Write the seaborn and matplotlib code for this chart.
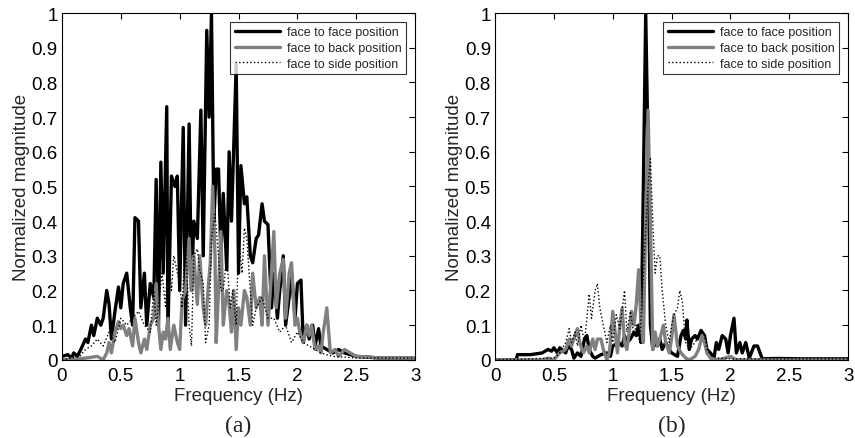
import numpy as np
import pandas as pd
import matplotlib
matplotlib.use("Agg")
import matplotlib.pyplot as plt
import seaborn as sns

# panel (a) - face to face
a_f2f_freq = [0.0, 0.05, 0.08, 0.1, 0.13, 0.16, 0.2, 0.22, 0.25, 0.27, 0.3, 0.33, 0.35, 0.38, 0.4, 0.42,
              0.45, 0.48, 0.5, 0.52, 0.55, 0.58, 0.6, 0.62, 0.65, 0.67, 0.7, 0.72, 0.75, 0.78, 0.8, 0.82,
              0.84, 0.86, 0.89, 0.9, 0.93, 0.96, 0.98, 1.0, 1.03, 1.05, 1.08, 1.1, 1.12, 1.15, 1.18, 1.2,
              1.23, 1.25, 1.27, 1.29, 1.31, 1.33, 1.35, 1.37, 1.4, 1.42, 1.44, 1.48, 1.5, 1.52, 1.55, 1.57,
              1.6, 1.62, 1.65, 1.67, 1.7, 1.72, 1.75, 1.78, 1.8, 1.83, 1.85, 1.88, 1.9, 1.93, 1.95, 1.98,
              2.0, 2.03, 2.05, 2.08, 2.1, 2.13, 2.15, 2.18, 2.2, 2.25, 2.3, 2.35, 2.4, 2.45, 2.5, 2.6, 2.7,
              2.8, 2.9, 3.0]
a_f2f_mag = [0.01, 0.015, 0.005, 0.02, 0.01, 0.03, 0.06, 0.05, 0.1, 0.07, 0.12, 0.1, 0.12, 0.2, 0.16, 0.06,
             0.14, 0.21, 0.15, 0.22, 0.25, 0.15, 0.1, 0.41, 0.4, 0.15, 0.25, 0.1, 0.22, 0.18, 0.52, 0.1,
             0.57, 0.25, 0.73, 0.08, 0.53, 0.5, 0.53, 0.2, 0.67, 0.1, 0.68, 0.2, 0.4, 0.35, 0.72, 0.3,
             0.95, 0.7, 1.0, 0.4, 0.55, 0.55, 0.3, 0.48, 0.26, 0.6, 0.4, 0.85, 0.25, 0.56, 0.45, 0.47,
             0.3, 0.28, 0.35, 0.36, 0.45, 0.4, 0.39, 0.15, 0.25, 0.12, 0.2, 0.3, 0.1, 0.18, 0.25, 0.12,
             0.22, 0.23, 0.05, 0.1, 0.06, 0.1, 0.04, 0.09, 0.04, 0.03, 0.02, 0.03, 0.02, 0.015, 0.01, 0.008,
             0.005, 0.005, 0.005, 0.005]

# panel (a) - face to back
a_f2b_freq = [0.0, 0.2, 0.3, 0.35, 0.38, 0.4, 0.42, 0.45, 0.48, 0.5, 0.52, 0.55, 0.57, 0.6, 0.62, 0.65,
              0.67, 0.7, 0.72, 0.75, 0.78, 0.8, 0.82, 0.84, 0.86, 0.88, 0.9, 0.92, 0.95, 0.98, 1.0, 1.02,
              1.05, 1.08, 1.1, 1.12, 1.15, 1.17, 1.2, 1.22, 1.24, 1.26, 1.28, 1.3, 1.31, 1.33, 1.35, 1.37,
              1.4, 1.42, 1.44, 1.46, 1.48, 1.5, 1.52, 1.55, 1.57, 1.6, 1.62, 1.65, 1.68, 1.7, 1.72, 1.75,
              1.77, 1.8, 1.82, 1.85, 1.88, 1.9, 1.93, 1.95, 1.98, 2.0, 2.02, 2.05, 2.08, 2.1, 2.12, 2.15,
              2.18, 2.2, 2.22, 2.25, 2.28, 2.32, 2.35, 2.4, 2.45, 2.5, 2.6, 2.7, 2.8, 2.9, 3.0]
a_f2b_mag = [0.0, 0.005, 0.01, 0.0, 0.02, 0.05, 0.02, 0.08, 0.11, 0.09, 0.1, 0.07, 0.09, 0.04, 0.12, 0.05,
             0.02, 0.06, 0.03, 0.1, 0.12, 0.22, 0.1, 0.03, 0.08, 0.06, 0.12, 0.03, 0.1, 0.05, 0.03, 0.17,
             0.2, 0.35, 0.2, 0.3, 0.16, 0.3, 0.15, 0.1, 0.2, 0.28, 0.5, 0.3, 0.05, 0.2, 0.37, 0.1,
             0.2, 0.16, 0.08, 0.2, 0.03, 0.15, 0.1, 0.2, 0.18, 0.1, 0.25, 0.15, 0.18, 0.1, 0.3, 0.1,
             0.2, 0.37, 0.15, 0.25, 0.29, 0.12, 0.25, 0.28, 0.1, 0.12, 0.08, 0.05, 0.1, 0.07, 0.1, 0.03,
             0.04, 0.02, 0.08, 0.15, 0.02, 0.03, 0.01, 0.03, 0.02, 0.01, 0.008, 0.005, 0.005, 0.005, 0.005]

# panel (a) - face to side
a_f2s_freq = [0.0, 0.15, 0.2, 0.25, 0.3, 0.35, 0.4, 0.45, 0.5, 0.55, 0.6, 0.65, 0.7, 0.75, 0.78, 0.8,
              0.85, 0.88, 0.9, 0.93, 0.95, 1.0, 1.02, 1.05, 1.08, 1.1, 1.12, 1.15, 1.17, 1.2, 1.22, 1.25,
              1.27, 1.3, 1.33, 1.35, 1.37, 1.4, 1.43, 1.45, 1.48, 1.5, 1.53, 1.55, 1.57, 1.6, 1.62, 1.65,
              1.7, 1.75, 1.8, 1.85, 1.9, 1.95, 2.0, 2.05, 2.1, 2.2, 2.3, 2.4, 2.5, 2.6, 2.8, 3.0]
a_f2s_mag = [0.0, 0.01, 0.03, 0.04, 0.06, 0.04, 0.08, 0.05, 0.12, 0.1, 0.12, 0.14, 0.1, 0.08, 0.2, 0.1,
             0.25, 0.15, 0.33, 0.2, 0.3, 0.22, 0.15, 0.35, 0.1, 0.04, 0.3, 0.32, 0.26, 0.22, 0.05, 0.1,
             0.35, 0.42, 0.3, 0.2, 0.2, 0.3, 0.15, 0.2, 0.1, 0.35, 0.25, 0.38, 0.35, 0.2, 0.1, 0.15,
             0.18, 0.12, 0.12, 0.08, 0.1, 0.05, 0.08, 0.05, 0.04, 0.02, 0.01, 0.008, 0.005, 0.005, 0.005, 0.005]

# panel (b) - face to face
b_f2f_freq = [0.0, 0.18, 0.19, 0.3, 0.4, 0.45, 0.48, 0.5, 0.53, 0.55, 0.6, 0.62, 0.65, 0.67, 0.7, 0.73,
              0.76, 0.78, 0.8, 0.83, 0.85, 0.9, 0.95, 0.98, 1.0, 1.05, 1.08, 1.1, 1.12, 1.15, 1.18, 1.2,
              1.22, 1.24, 1.26, 1.28, 1.3, 1.32, 1.34, 1.36, 1.38, 1.4, 1.42, 1.45, 1.48, 1.5, 1.55, 1.58,
              1.6, 1.62, 1.63, 1.65, 1.67, 1.7, 1.72, 1.75, 1.78, 1.8, 1.83, 1.86, 1.88, 1.9, 1.93, 1.96,
              1.98, 2.0, 2.03, 2.05, 2.08, 2.1, 2.13, 2.16, 2.2, 2.23, 2.27, 2.4, 2.6, 2.8, 3.0]
b_f2f_mag = [0.0, 0.0, 0.015, 0.015, 0.02, 0.03, 0.025, 0.035, 0.02, 0.035, 0.02, 0.04, 0.03, 0.005, 0.02, 0.01,
             0.06, 0.07, 0.03, 0.01, 0.005, 0.015, 0.02, 0.01, 0.04, 0.05, 0.04, 0.07, 0.05, 0.06, 0.08, 0.07,
             0.1, 0.05, 0.5, 1.0, 0.6, 0.1, 0.03, 0.05, 0.04, 0.06, 0.03, 0.05, 0.03, 0.02, 0.01, 0.07,
             0.085, 0.06, 0.115, 0.03, 0.06, 0.07, 0.06, 0.085, 0.07, 0.03, 0.02, 0.005, 0.05, 0.03, 0.07, 0.06,
             0.02, 0.07, 0.12, 0.02, 0.05, 0.02, 0.05, 0.005, 0.04, 0.04, 0.003, 0.004, 0.003, 0.003, 0.003]

# panel (b) - face to back
b_f2b_freq = [0.0, 0.4, 0.45, 0.5, 0.55, 0.6, 0.63, 0.65, 0.68, 0.7, 0.72, 0.75, 0.78, 0.8, 0.83, 0.85,
              0.87, 0.9, 0.92, 0.95, 0.97, 0.98, 1.0, 1.02, 1.04, 1.06, 1.08, 1.1, 1.12, 1.14, 1.16, 1.18,
              1.2, 1.22, 1.24, 1.26, 1.28, 1.3, 1.32, 1.34, 1.36, 1.38, 1.4, 1.43, 1.45, 1.48, 1.5, 1.52,
              1.55, 1.58, 1.62, 1.65, 1.7, 1.73, 1.76, 1.78, 1.8, 1.83, 1.9, 1.95, 2.0, 2.05, 3.0]
b_f2b_mag = [0.0, 0.0, 0.005, 0.0, 0.02, 0.03, 0.06, 0.04, 0.07, 0.09, 0.05, 0.02, 0.04, 0.02, 0.06, 0.03,
             0.06, 0.06, 0.03, 0.0, 0.02, 0.05, 0.14, 0.08, 0.02, 0.1, 0.15, 0.05, 0.03, 0.08, 0.14, 0.1,
             0.16, 0.26, 0.1, 0.05, 0.4, 0.72, 0.4, 0.03, 0.08, 0.04, 0.06, 0.1, 0.05, 0.02, 0.06, 0.13,
             0.04, 0.02, 0.005, 0.0, 0.01, 0.03, 0.07, 0.05, 0.02, 0.005, 0.0, 0.005, 0.01, 0.0, 0.0]

# panel (b) - face to side
b_f2s_freq = [0.0, 0.5, 0.55, 0.6, 0.63, 0.65, 0.68, 0.7, 0.73, 0.76, 0.8, 0.82, 0.85, 0.87, 0.89, 0.92,
              0.95, 0.98, 1.0, 1.03, 1.06, 1.1, 1.12, 1.15, 1.18, 1.2, 1.23, 1.26, 1.3, 1.32, 1.34, 1.36,
              1.38, 1.4, 1.42, 1.45, 1.48, 1.5, 1.52, 1.55, 1.57, 1.59, 1.62, 1.65, 1.7, 1.75, 1.78, 1.8,
              1.85, 1.9, 2.0, 2.5, 3.0]
b_f2s_mag = [0.0, 0.005, 0.02, 0.05, 0.09, 0.05, 0.08, 0.04, 0.1, 0.05, 0.19, 0.12, 0.2, 0.22, 0.15, 0.1,
             0.05, 0.1, 0.05, 0.13, 0.09, 0.2, 0.08, 0.14, 0.07, 0.1, 0.05, 0.25, 0.5, 0.58, 0.4, 0.25,
             0.3, 0.3, 0.2, 0.1, 0.05, 0.1, 0.13, 0.15, 0.2, 0.17, 0.05, 0.03, 0.05, 0.08, 0.07, 0.03,
             0.01, 0.005, 0.003, 0.003, 0.003]

series_labels = ["face to face position", "face to back position", "face to side position"]
x_ticks = [0, 0.5, 1, 1.5, 2, 2.5, 3]
x_tick_labels = ["0", "0.5", "1", "1.5", "2", "2.5", "3"]
y_ticks = [0, 0.1, 0.2, 0.3, 0.4, 0.5, 0.6, 0.7, 0.8, 0.9, 1.0]
y_tick_labels = ["0", "0.1", "0.2", "0.3", "0.4", "0.5", "0.6", "0.7", "0.8", "0.9", "1"]
captions = ["(a)", "(b)"]

sns.set_style("white")
plt.rcParams['font.family'] = ['Liberation Sans', 'DejaVu Sans']

styles = [dict(color="black", lw=2.4, ls="-"),
          dict(color="#808080", lw=2.4, ls="-"),
          dict(color="black", lw=1.0, ls=":")]

panels = [
    [(a_f2f_freq, a_f2f_mag), (a_f2b_freq, a_f2b_mag), (a_f2s_freq, a_f2s_mag)],
    [(b_f2f_freq, b_f2f_mag), (b_f2b_freq, b_f2b_mag), (b_f2s_freq, b_f2s_mag)],
]

fig = plt.figure(figsize=(8.55, 4.39), dpi=100)
lefts = [0.0725, 0.579]
for i, panel in enumerate(panels):
    ax = fig.add_axes([lefts[i], 0.178, 0.413, 0.79])
    for (fr, mg), lab, st in zip(panel, series_labels, styles):
        sns.lineplot(x=fr, y=mg, ax=ax, label=lab, color=st["color"], linewidth=st["lw"],
                     linestyle=st["ls"], estimator=None, sort=False)
    ax.set_xlim(0, 3)
    ax.set_ylim(0, 1)
    ax.set_xticks(x_ticks)
    ax.set_xticklabels(x_tick_labels)
    ax.set_yticks(y_ticks)
    ax.set_yticklabels(y_tick_labels)
    ax.tick_params(direction="in", length=4, width=0.8, top=True, right=True,
                   labelsize=13.5, colors="black")
    ax.tick_params(axis="x", pad=5)
    ax.tick_params(axis="y", pad=3)
    for sp in ax.spines.values():
        sp.set_visible(True)
        sp.set_color("black")
        sp.set_linewidth(0.8)
    ax.set_xlabel("Frequency (Hz)", fontsize=13.5, labelpad=2)
    ax.set_ylabel("Normalized magnitude", fontsize=13.5, labelpad=1)
    leg = ax.legend(loc="upper right", fontsize=9, frameon=True, fancybox=False,
                    edgecolor="black", handlelength=3.6, borderpad=0.35,
                    labelspacing=0.3, borderaxespad=0.7, handletextpad=0.6)
    leg.get_frame().set_linewidth(0.8)
    ax.text(0.5, -0.158, captions[i], transform=ax.transAxes, ha="center", va="top",
            fontsize=17, family=["Liberation Serif", "DejaVu Serif"])

fig.savefig("out.png", dpi=100)
